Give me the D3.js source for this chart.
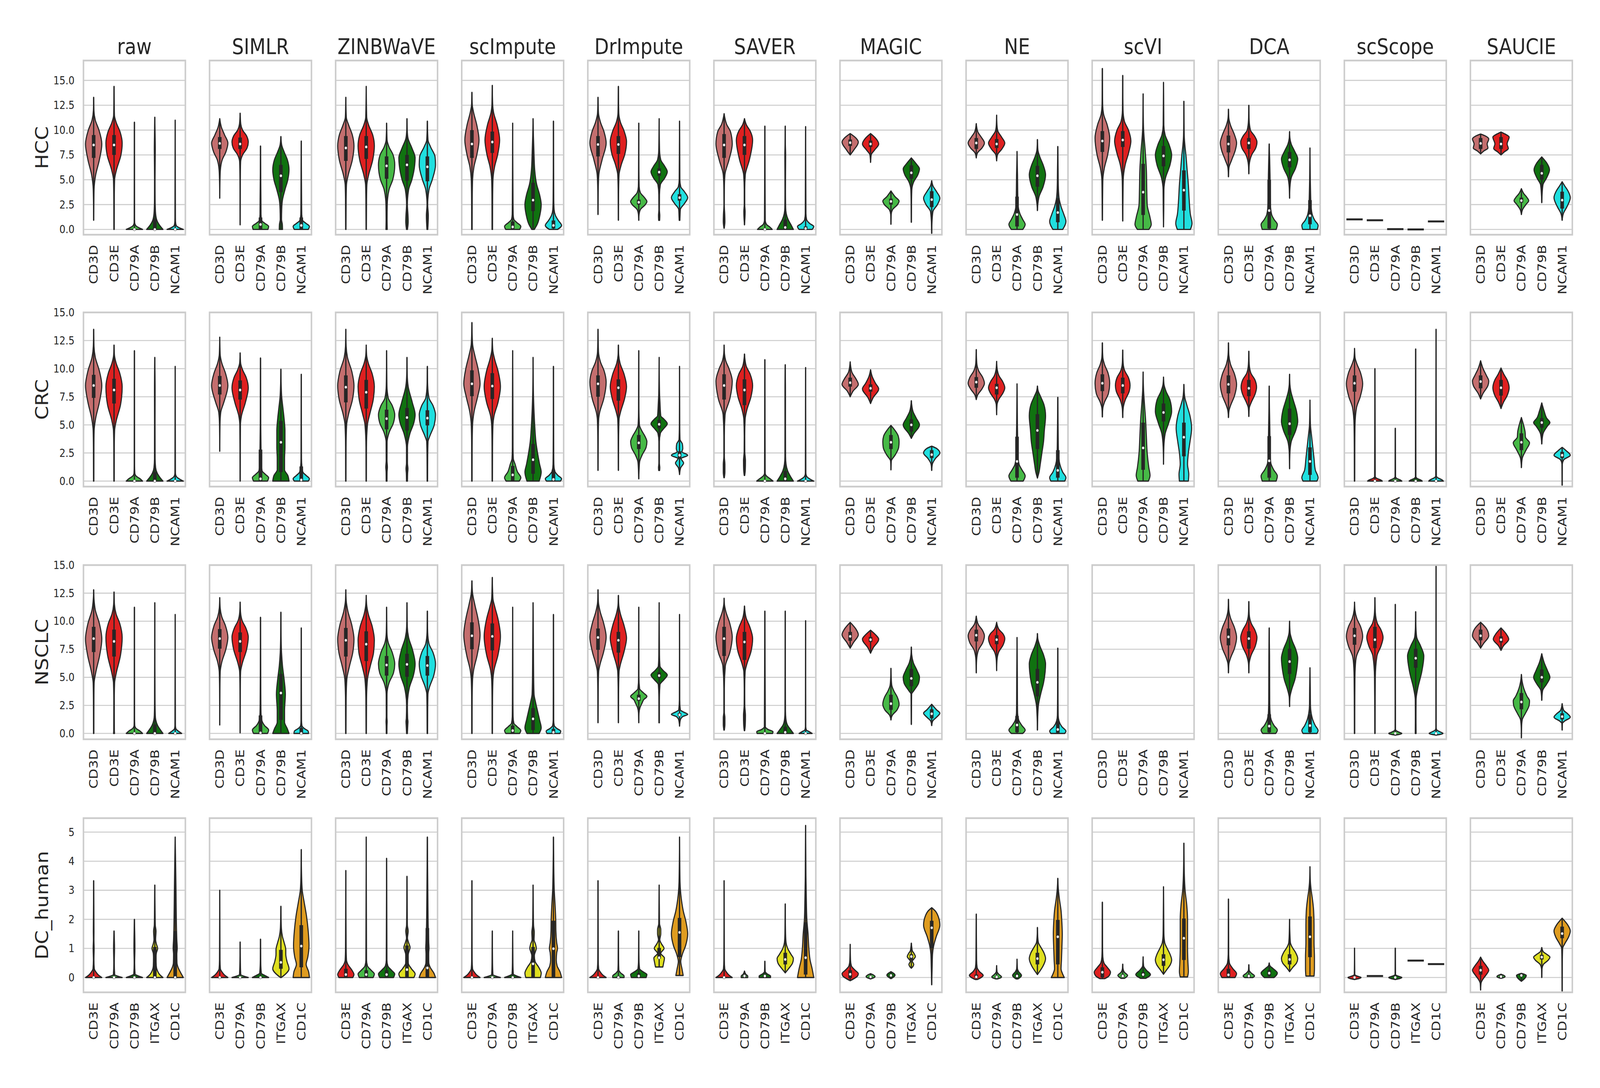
<!DOCTYPE html>
<html>
<head>
<meta charset="utf-8">
<script src="https://cdn.jsdelivr.net/npm/d3@7"></script>
<style>
  html, body { margin: 0; padding: 0; background: #fff; overflow: hidden; }
  #chart svg { display: block; width: 100vw; height: 100vh; }
  text { font-family: "DejaVu Sans", sans-serif; fill: #262626; }
</style>
</head>
<body>
<div id="chart"></div>
<script>
// methods (columns) and datasets (rows)
const methods = ["raw", "SIMLR", "ZINBWaVE", "scImpute", "DrImpute", "SAVER", "MAGIC", "NE", "scVI", "DCA", "scScope", "SAUCIE"];
const datasets = ["HCC", "CRC", "NSCLC", "DC_human"];
const tcellGenes = ["CD3D", "CD3E", "CD79A", "CD79B", "NCAM1"];
const dcGenes = ["CD3E", "CD79A", "CD79B", "ITGAX", "CD1C"];
const geneColors = {CD3D: "#c46e6e", CD3E: "#df2020", CD79A: "#46b946", CD79B: "#107210", NCAM1: "#20dfdf", ITGAX: "#dfdf20", CD1C: "#df9c20"};
const ticksExpr = [0, 2.5, 5, 7.5, 10, 12.5, 15];
const ticksDC = [0, 1, 2, 3, 4, 5];
const yLimits = [[-0.53, 17.0], [-0.49, 15.0], [-0.52, 15.0], [-0.51, 5.48]];

// each violin: [min, max, q1, median, q3, [[value, relative half width], ...]]
const hccViolins = [
  [[0.92,13.3,7.2,8.5,9.5,[[0.92,0],[4,0.05],[5.5,0.25],[7,0.7],[8.6,1],[10,0.65],[11,0.2],[12,0.03],[13.3,0]]],
   [0,14.4,7.5,8.5,9.5,[[0,0.02],[3,0.03],[5,0.07],[6,0.3],[7.5,0.85],[8.7,1],[9.8,0.75],[10.8,0.25],[11.5,0.05],[14.4,0]]],
   [0,10.8,0,0,0,[[0,1],[0.15,0.6],[0.4,0.15],[0.7,0.03],[1.5,0.02],[10.8,0]]],
   [0,11.3,0,0,1.1,[[0,1],[0.4,0.6],[1,0.22],[1.8,0.08],[3,0.04],[5,0.03],[8,0.06],[10,0.03],[11.3,0]]],
   [0,11,0,0,0,[[0,1],[0.15,0.55],[0.4,0.12],[0.8,0.04],[1.2,0.03],[11,0]]]],
  [[3.15,11.15,8.1,8.66,9.3,[[3.15,0],[5,0.03],[6,0.08],[7,0.3],[7.8,0.75],[8.7,1],[9.5,0.6],[10.3,0.2],[11.15,0]]],
   [0.46,11.7,8.1,8.6,9.25,[[0.46,0],[5,0.02],[6.8,0.06],[7.5,0.3],[8.2,0.85],[8.8,1],[9.4,0.8],[10,0.3],[10.6,0.08],[11.7,0]]],
   [0,8.4,0.05,0.5,1.2,[[0,0.9],[0.3,1],[0.6,0.55],[0.9,0.15],[1.5,0.06],[3,0.05],[4,0.04],[6,0.02],[8.4,0]]],
   [0,9.35,3.75,5.4,6.5,[[0,0.2],[0.5,0.18],[1,0.08],[2,0.1],[3,0.2],[4,0.5],[5,0.85],[6,1],[7,0.8],[7.8,0.4],[8.5,0.1],[9.35,0]]],
   [0,8.9,0,0.4,1.2,[[0,0.85],[0.3,1],[0.6,0.6],[0.9,0.18],[1.5,0.06],[3,0.04],[6,0.02],[8.9,0]]]],
  [[0,13.3,6.9,8.2,9.4,[[0,0.02],[3,0.04],[4.5,0.08],[5.5,0.3],[7,0.8],[8.4,1],[9.5,0.8],[10.5,0.35],[11.3,0.06],[13.3,0]]],
   [0,14.4,7.1,8.3,9.4,[[0,0.02],[3,0.04],[4.5,0.08],[5.5,0.3],[7,0.8],[8.4,1],[9.5,0.8],[10.5,0.3],[11.3,0.06],[14.4,0]]],
   [0,10.7,5.1,6.4,7.35,[[0,0.08],[1,0.06],[2.5,0.08],[4,0.3],[5,0.75],[6.5,1],[7.5,0.8],[8.3,0.3],[9,0.06],[10.7,0]]],
   [0,11.15,4.9,6.5,7.5,[[0,0.06],[0.8,0.15],[1.5,0.12],[2.5,0.05],[4,0.2],[5,0.6],[6.5,0.95],[7.2,1],[8.2,0.6],[9.2,0.12],[10,0.03],[11.15,0]]],
   [0,10.9,4.85,6.3,7.35,[[0,0.05],[1.4,0.12],[2.5,0.04],[4,0.2],[5,0.6],[6.5,1],[7.3,0.95],[8.3,0.4],[9,0.08],[10.9,0]]]],
  [[0,13.8,7.2,8.6,10,[[0,0.03],[3,0.04],[5,0.08],[6.3,0.25],[7.5,0.6],[9,0.87],[10.5,0.6],[11.8,0.2],[12.5,0.05],[13.8,0]]],
   [0,14.5,7.7,8.8,9.85,[[0,0.03],[3,0.04],[5,0.08],[6.3,0.28],[7.5,0.65],[9,0.9],[10.5,0.6],[11.8,0.15],[12.5,0.05],[14.5,0]]],
   [0,10.7,0,0.25,0.8,[[0,0.85],[0.3,1],[0.7,0.5],[1,0.15],[1.5,0.06],[3,0.04],[6,0.02],[10.7,0]]],
   [0,11.15,1.85,2.95,4.7,[[0,0.15],[0.5,0.5],[1.5,0.85],[2.5,1],[3.5,0.8],[4.5,0.45],[6,0.2],[8,0.1],[9.5,0.04],[11.15,0]]],
   [0,10.9,0.1,0.4,0.9,[[0,0.5],[0.4,1],[0.9,0.6],[1.4,0.25],[2,0.08],[3,0.04],[6,0.02],[10.9,0]]]],
  [[1.5,13.3,7.35,8.55,9.4,[[1.5,0],[4,0.03],[5.5,0.1],[7,0.5],[8.7,1],[9.8,0.75],[10.8,0.3],[11.7,0.06],[13.3,0]]],
   [0.92,14.4,7.6,8.55,9.4,[[0.92,0],[4,0.03],[5.5,0.08],[6.5,0.35],[7.6,0.8],[8.85,1],[9.9,0.7],[10.8,0.25],[11.7,0.05],[14.4,0]]],
   [0.92,10.7,2.5,2.73,3.0,[[0.92,0],[1.5,0.04],[2,0.2],[2.5,0.8],[2.8,1],[3.2,0.7],[3.7,0.2],[4.3,0.05],[6,0.02],[10.7,0]]],
   [0.92,11.15,5.4,5.77,6.15,[[0.92,0.06],[1.4,0.08],[2,0.03],[3.5,0.04],[4.5,0.15],[5.2,0.7],[5.8,1],[6.4,0.65],[7,0.2],[8,0.05],[11.15,0]]],
   [0.92,10.9,2.9,3.2,3.55,[[0.92,0.04],[1.3,0.06],[2,0.1],[2.6,0.6],[3.2,1],[3.8,0.6],[4.3,0.15],[5,0.04],[10.9,0]]]],
  [[0.13,11.65,7.2,8.5,9.6,[[0.13,0.02],[0.8,0.1],[1.5,0.08],[2.5,0.02],[4,0.03],[5.5,0.1],[7,0.6],[8.6,1],[9.8,0.8],[10.6,0.3],[11.65,0]]],
   [0.46,11.15,7.5,8.5,9.4,[[0.46,0],[1.2,0.06],[1.8,0.08],[2.5,0.03],[4,0.03],[5.5,0.1],[7,0.6],[9,1],[9.9,0.7],[10.5,0.25],[11.15,0]]],
   [0,10.4,0,0,0,[[0,0.9],[0.25,0.6],[0.5,0.2],[0.9,0.05],[10.4,0]]],
   [0,10.4,0,0.2,1.0,[[0,1],[0.4,0.75],[1,0.35],[1.6,0.12],[2.2,0.05],[4,0.03],[6,0.04],[7.5,0.05],[8.5,0.02],[10.4,0]]],
   [0,10.35,0,0.1,0.3,[[0,0.8],[0.3,1],[0.6,0.5],[1,0.12],[1.6,0.04],[10.35,0]]]],
  [[7.5,9.65,8.4,8.73,9.05,[[7.5,0],[8.0,0.45],[8.8,1],[9.2,0.7],[9.65,0]]],
   [6.75,9.65,8.3,8.6,8.95,[[6.75,0],[7.5,0.08],[8.0,0.5],[8.6,1],[9.2,0.6],[9.65,0]]],
   [0.52,3.87,2.5,2.82,3.1,[[0.52,0],[1.5,0.03],[2.0,0.2],[2.5,0.8],[2.85,1],[3.3,0.5],[3.87,0]]],
   [0.72,7.2,5.1,5.7,6.45,[[0.72,0],[2.5,0.02],[4,0.06],[4.8,0.3],[5.5,0.8],[6.1,1],[6.6,0.6],[7.2,0]]],
   [-0.4,4.9,2.25,3.0,3.85,[[-0.4,0],[0.8,0.04],[1.8,0.15],[2.5,0.7],[3.15,1],[3.8,0.6],[4.4,0.15],[4.9,0]]]],
  [[7.2,10.65,8.1,8.7,9.2,[[7.2,0],[7.7,0.15],[8.2,0.7],[8.7,1],[9.3,0.6],[9.8,0.2],[10.65,0]]],
   [6.9,11.5,8.2,8.6,9.1,[[6.9,0],[7.5,0.1],[8.1,0.65],[8.7,1],[9.3,0.6],[9.9,0.15],[10.5,0.04],[11.5,0]]],
   [0,7.85,0.3,1.5,3.3,[[0,0.7],[0.5,1],[1,0.7],[1.6,0.35],[2.5,0.12],[4,0.08],[5.5,0.06],[6.5,0.03],[7.85,0]]],
   [1.9,9.05,4.3,5.4,6.4,[[1.9,0],[2.6,0.06],[3.3,0.2],[4.3,0.7],[5.5,1],[6.5,0.7],[7.3,0.3],[8,0.06],[9.05,0]]],
   [0,8.35,0.72,1.7,3.15,[[0,0.6],[0.8,1],[1.5,0.75],[2.3,0.4],[3.2,0.15],[4.5,0.06],[6,0.04],[8.35,0]]]],
  [[0.92,16.2,7.8,8.9,9.9,[[0.92,0],[3,0.03],[5,0.06],[6.2,0.25],[7.5,0.65],[9.2,0.9],[10.5,0.6],[11.6,0.15],[12.5,0.04],[16.2,0]]],
   [0.85,15.5,8.3,9.0,9.9,[[0.85,0],[3,0.03],[5,0.06],[6.5,0.3],[7.8,0.75],[8.9,1],[10,0.7],[10.9,0.2],[12,0.04],[15.5,0]]],
   [0,13.65,1.45,3.75,6.6,[[0,0.7],[0.5,1],[1.2,0.85],[2.5,0.5],[4,0.45],[6,0.4],[8,0.25],[9.5,0.1],[10.5,0.04],[13.65,0]]],
   [0.26,14.8,6.35,7.4,8.4,[[0.26,0],[2,0.03],[4,0.05],[5.2,0.25],[6.5,0.8],[7.5,1],[8.5,0.7],[9.5,0.2],[10.5,0.04],[14.8,0]]],
   [0,12.9,1.9,3.95,5.95,[[0,0.8],[0.6,1],[1.5,0.8],[3,0.65],[4.5,0.55],[6,0.4],[7.5,0.25],[8.5,0.12],[9.5,0.04],[12.9,0]]]],
  [[5.3,12.1,7.75,8.6,9.45,[[5.3,0],[6.2,0.06],[7,0.4],[8,0.85],[8.7,1],[9.5,0.75],[10.5,0.25],[11.2,0.05],[12.1,0]]],
   [5.6,12.5,8.1,8.7,9.2,[[5.6,0],[6.5,0.05],[7.5,0.35],[8.2,0.85],[8.8,1],[9.4,0.7],[10,0.2],[11,0.04],[12.5,0]]],
   [0,8.6,0.1,1.9,5.0,[[0,0.85],[0.5,1],[1.0,0.6],[1.5,0.3],[2.5,0.15],[4,0.12],[5.5,0.1],[7,0.06],[8.6,0]]],
   [3.15,9.85,6.25,7.0,7.8,[[3.15,0],[4.2,0.04],[5.2,0.2],[6.2,0.75],[7.1,1],[7.9,0.6],[8.6,0.2],[9.2,0.04],[9.85,0]]],
   [0,8.2,0.52,1.38,2.95,[[0,0.9],[0.4,1],[0.9,0.6],[1.6,0.25],[2.5,0.12],[3.5,0.08],[5,0.04],[8.2,0]]]],
  [[1.01,1.01,1.01,1.01,1.01,[]],
   [0.92,0.92,0.92,0.92,0.92,[]],
   [0.03,0.03,0.03,0.03,0.03,[]],
   [0,0,0,0,0,[]],
   [0.81,0.81,0.81,0.81,0.81,[]]],
  [[7.6,9.6,8.1,8.66,9.2,[[7.6,0],[7.9,0.4],[8.2,0.9],[8.6,0.8],[9.1,1],[9.4,0.6],[9.6,0]]],
   [7.5,9.8,8.1,8.6,9.3,[[7.5,0],[7.8,0.4],[8.15,0.9],[8.6,0.75],[9.3,1],[9.6,0.5],[9.8,0]]],
   [1.5,4.1,2.7,2.9,3.2,[[1.5,0],[2.0,0.15],[2.5,0.55],[2.9,0.9],[3.2,0.7],[3.6,0.3],[4.1,0]]],
   [2.7,7.3,5.0,5.65,6.5,[[2.7,0],[3.5,0.04],[4.5,0.15],[5.2,0.6],[6,0.95],[6.7,0.6],[7.3,0]]],
   [0.92,4.8,2.1,2.95,3.8,[[0.92,0],[1.6,0.15],[2.3,0.6],[3.2,1],[3.9,0.7],[4.4,0.3],[4.8,0]]]]
];

const crcViolins = [
  [[0,13.5,7.4,8.5,9.45,[[0,0.02],[3,0.03],[4.5,0.06],[5.6,0.25],[7,0.7],[8.5,1],[9.8,0.7],[11,0.2],[12,0.04],[13.5,0]]],
   [0,12.1,6.9,8.1,9.1,[[0,0.02],[3,0.03],[4.5,0.07],[5.3,0.25],[6.8,0.8],[8.4,1],[9.6,0.7],[10.5,0.25],[11.2,0.05],[12.1,0]]],
   [0,11.6,0,0,0,[[0,1],[0.2,0.7],[0.45,0.2],[0.7,0.05],[1.5,0.02],[11.6,0]]],
   [0,11,0,0,0.8,[[0,1],[0.3,0.65],[0.7,0.3],[1.2,0.1],[2,0.04],[5,0.03],[8,0.04],[11,0]]],
   [0,10.2,0,0,0,[[0,1],[0.15,0.6],[0.4,0.15],[0.7,0.03],[10.2,0]]]],
  [[2.65,12.8,7.7,8.5,9.35,[[2.65,0],[5,0.03],[6.1,0.12],[7,0.5],[8.5,1],[9.6,0.7],[10.5,0.25],[11.3,0.05],[12.8,0]]],
   [0,11.4,7.25,8.1,8.95,[[0,0.01],[3,0.02],[5,0.04],[5.75,0.15],[7,0.65],[8.3,1],[9.2,0.75],[9.9,0.3],[10.5,0.06],[11.4,0]]],
   [0,10.95,0,0.2,2.8,[[0,0.85],[0.3,1],[0.6,0.6],[0.9,0.2],[1.5,0.08],[3,0.06],[5,0.03],[10.95,0]]],
   [0,9.95,0.8,3.45,5.35,[[0,1],[0.5,0.85],[1,0.45],[2,0.45],[3,0.5],[4.5,0.5],[5.5,0.4],[6.5,0.25],[7.5,0.1],[8.5,0.04],[9.95,0]]],
   [0,9.5,0,0.1,1.3,[[0,0.85],[0.2,1],[0.5,0.6],[0.8,0.2],[1.3,0.08],[2,0.03],[9.5,0]]]],
  [[0,13.5,7.0,8.35,9.4,[[0,0.02],[3,0.03],[5,0.1],[6,0.35],[7.2,0.8],[8.5,1],[9.7,0.75],[11,0.2],[12,0.04],[13.5,0]]],
   [0,12.1,6.45,7.9,9.0,[[0,0.02],[3,0.03],[5,0.15],[6,0.45],[7.2,0.85],[8.4,1],[9.5,0.75],[10.5,0.25],[11.2,0.05],[12.1,0]]],
   [0,11.6,4.6,5.55,6.35,[[0,0.05],[0.8,0.06],[1.25,0.1],[1.8,0.05],[3.5,0.06],[4.3,0.3],[5.2,0.85],[5.9,1],[6.7,0.7],[7.4,0.2],[8.5,0.04],[11.6,0]]],
   [0,11,4.5,5.65,6.5,[[0,0.06],[0.7,0.08],[1.1,0.12],[1.6,0.06],[3,0.06],[4.2,0.35],[5.2,0.85],[5.9,1],[7,0.65],[8.4,0.15],[9.5,0.03],[11,0]]],
   [0,10.2,4.95,5.6,6.3,[[0,0.03],[2,0.04],[3.5,0.08],[4,0.3],[5,0.85],[5.9,1],[6.7,0.7],[7.4,0.2],[8.5,0.04],[10.2,0]]]],
  [[0,14.1,7.55,8.65,9.85,[[0,0.02],[3,0.03],[5,0.08],[6.1,0.25],[7.5,0.7],[8.65,1],[10,0.75],[11.2,0.35],[12.2,0.08],[14.1,0]]],
   [0,12.7,7.3,8.45,9.6,[[0,0.02],[3,0.03],[5,0.08],[5.75,0.2],[7,0.7],[8.4,1],[9.8,0.7],[10.8,0.3],[11.65,0.06],[12.7,0]]],
   [0,11.6,0,0.55,1.35,[[0,0.8],[0.3,1],[0.8,0.6],[1.5,0.3],[2,0.08],[3,0.04],[6,0.03],[11.6,0]]],
   [0,11,0.65,1.9,3.3,[[0,0.75],[0.8,1],[1.5,0.8],[2.5,0.55],[3.5,0.35],[5,0.2],[6.5,0.1],[8,0.04],[11,0]]],
   [0,10.2,0,0.15,1.0,[[0,0.85],[0.2,1],[0.5,0.55],[0.9,0.15],[1.5,0.05],[3,0.03],[10.2,0]]]],
  [[0.95,13.5,7.5,8.65,9.4,[[0.95,0],[4,0.03],[5.5,0.08],[6.1,0.2],[7.3,0.7],[8.8,1],[9.8,0.75],[10.6,0.3],[11.5,0.06],[13.5,0]]],
   [0.95,12.1,7.15,8.3,9.05,[[0.95,0],[4,0.03],[5.5,0.08],[6.1,0.25],[7.3,0.75],[8.4,1],[9.5,0.7],[10.5,0.2],[11.2,0.04],[12.1,0]]],
   [0.2,11.6,2.85,3.4,4.1,[[0.2,0],[1.0,0.04],[1.7,0.1],[2.3,0.4],[3,0.9],[3.5,1],[4.0,0.75],[4.5,0.35],[5,0.08],[6.5,0.02],[11.6,0]]],
   [0.95,11,4.7,5.05,5.45,[[0.95,0.06],[1.2,0.08],[1.6,0.03],[3.5,0.03],[4.25,0.15],[4.7,0.6],[5.1,1],[5.5,0.6],[5.8,0.2],[7,0.1],[7.8,0.05],[11,0]]],
   [0.58,10.2,1.95,2.3,2.65,[[0.58,0],[1.2,0.15],[1.6,0.5],[2,0.2],[2.3,1],[2.6,0.3],[2.9,0.4],[3.3,0.35],[3.7,0.06],[5,0.02],[10.2,0]]]],
  [[0.3,12.1,7.25,8.5,9.5,[[0.3,0.03],[0.8,0.1],[1.5,0.1],[2.2,0.03],[4,0.03],[5.9,0.12],[7.3,0.7],[8.9,1],[10,0.6],[10.7,0.2],[11.3,0.05],[12.1,0]]],
   [0.5,11.3,6.75,8.1,9.05,[[0.5,0.03],[1,0.1],[1.8,0.12],[2.6,0.04],[4,0.03],[5.5,0.08],[6.35,0.3],[7.5,0.8],[8.5,1],[9.5,0.7],[10.25,0.2],[11.3,0]]],
   [0,10.8,0,0,0,[[0,1],[0.2,0.65],[0.45,0.2],[0.7,0.04],[10.8,0]]],
   [0,10.35,0,0.2,0.9,[[0,1],[0.4,0.65],[0.9,0.3],[1.5,0.1],[2.2,0.04],[5,0.03],[8,0.03],[10.35,0]]],
   [0,10.1,0,0,0,[[0,1],[0.15,0.6],[0.4,0.15],[0.7,0.03],[10.1,0]]]],
  [[7.5,10.6,8.4,8.75,9.2,[[7.5,0],[8,0.35],[8.6,1],[9.1,0.7],[9.7,0.2],[10.6,0]]],
   [6.9,9.9,7.95,8.25,8.6,[[6.9,0],[7.4,0.3],[8.2,1],[8.7,0.6],[9.3,0.2],[9.9,0]]],
   [1.0,4.95,2.85,3.45,4.1,[[1.0,0],[1.8,0.05],[2.3,0.5],[3.0,0.95],[3.5,1],[4.0,0.9],[4.6,0.4],[4.95,0]]],
   [3.8,7.15,4.4,5.0,5.5,[[3.8,0],[4.2,0.3],[5.0,1],[5.6,0.6],[6.2,0.2],[7.15,0]]],
   [0.95,3.1,2.05,2.35,2.75,[[0.95,0],[1.5,0.08],[2.0,0.45],[2.5,1],[2.9,0.6],[3.1,0]]]],
  [[7.25,11.7,8.3,8.8,9.25,[[7.25,0],[7.7,0.2],[8.2,0.7],[8.7,1],[9.2,0.8],[9.8,0.3],[10.5,0.06],[11.7,0]]],
   [5.9,10.65,7.7,8.3,8.65,[[5.9,0],[6.8,0.05],[7.25,0.25],[7.8,0.75],[8.3,1],[8.9,0.7],[9.35,0.3],[10,0.06],[10.65,0]]],
   [0,8.65,0.3,1.75,3.95,[[0,0.75],[0.45,1],[1,0.6],[1.5,0.25],[2.5,0.08],[4,0.07],[5,0.05],[8.65,0]]],
   [0.27,8.45,2.85,4.5,5.95,[[0.27,0],[0.8,0.2],[1.5,0.35],[2.5,0.55],[3.5,0.75],[4.5,0.85],[5.8,1],[6.8,0.8],[7.5,0.4],[8.0,0.1],[8.45,0]]],
   [0,7.45,0.3,0.95,2.75,[[0,0.85],[0.3,1],[0.8,0.6],[1.5,0.25],[2.5,0.08],[4,0.05],[7.45,0]]]],
  [[5.7,12.3,8.0,8.7,9.5,[[5.7,0],[6.5,0.06],[7,0.25],[7.8,0.75],[8.7,0.9],[9.6,0.7],[10.4,0.25],[11,0.06],[12.3,0]]],
   [5.65,11.65,7.8,8.5,9.2,[[5.65,0],[6.5,0.06],[7.2,0.3],[8,0.8],[8.5,0.9],[9.2,0.7],[9.8,0.25],[10.5,0.05],[11.65,0]]],
   [0,9.7,1.0,2.95,5.2,[[0,0.65],[0.5,0.85],[1.2,0.7],[2.5,0.5],[4,0.4],[5.5,0.3],[7,0.15],[8,0.06],[9.7,0]]],
   [1.5,9.25,5.3,6.1,6.9,[[1.5,0],[3,0.04],[4.2,0.2],[5.2,0.65],[6.2,1],[7.2,0.8],[8,0.3],[8.6,0.06],[9.25,0]]],
   [0,8.6,2.2,3.9,5.2,[[0,0.55],[0.6,0.6],[1.5,0.45],[2.5,0.55],[3.5,0.75],[4.7,0.95],[5.8,0.75],[6.8,0.35],[7.5,0.1],[8.6,0]]]],
  [[5.65,12.3,7.8,8.6,9.4,[[5.65,0],[6.3,0.08],[6.7,0.25],[7.6,0.75],[8.6,1],[9.5,0.75],[10.4,0.25],[11.2,0.05],[12.3,0]]],
   [5.75,11.55,7.55,8.25,9.0,[[5.75,0],[6.5,0.06],[7,0.3],[7.8,0.8],[8.35,0.95],[9,0.75],[9.6,0.25],[10.4,0.05],[11.55,0]]],
   [0,8.45,0.3,1.8,4.0,[[0,0.85],[0.45,1],[1,0.55],[1.6,0.2],[2.5,0.1],[4,0.09],[5,0.07],[6.5,0.03],[8.45,0]]],
   [1.1,9.5,4.1,5.1,6.45,[[1.1,0],[2.5,0.04],[3.5,0.2],[4.5,0.75],[5.3,1],[6.2,0.85],[7.2,0.45],[8,0.15],[8.6,0.04],[9.5,0]]],
   [0,7.2,0.55,1.75,3.0,[[0,0.85],[0.3,1],[1,0.65],[2,0.5],[3,0.35],[4,0.2],[5,0.06],[7.2,0]]]],
  [[0,11.8,7.95,8.7,9.4,[[0,0.02],[3,0.03],[5,0.06],[6.55,0.25],[7.5,0.7],[8.65,1],[9.6,0.75],[10.5,0.25],[11,0.06],[11.8,0]]],
   [0,10,0,0,0,[[0,0.9],[0.1,0.7],[0.25,0.2],[0.4,0.04],[10,0]]],
   [0,4.7,0,0,0,[[0,0.8],[0.1,0.6],[0.25,0.15],[0.4,0.03],[4.7,0]]],
   [0,11.75,0,0,0,[[0,0.8],[0.1,0.6],[0.25,0.15],[0.4,0.03],[11.75,0]]],
   [0,13.5,0,0,0,[[0,0.9],[0.12,0.7],[0.3,0.2],[0.45,0.04],[13.5,0]]]],
  [[7.3,10.7,8.25,8.85,9.4,[[7.3,0],[7.8,0.3],[8.5,0.9],[8.9,1],[9.4,0.7],[10,0.3],[10.7,0]]],
   [6.45,10.05,7.6,8.3,9.0,[[6.45,0],[7,0.3],[7.6,0.75],[8.3,1],[9,0.75],[9.5,0.35],[10.05,0]]],
   [1.2,5.65,2.75,3.45,4.25,[[1.2,0],[2,0.1],[2.8,0.6],[3.4,1],[3.9,0.5],[4.4,0.45],[4.9,0.3],[5.65,0]]],
   [3.3,6.95,4.75,5.2,5.6,[[3.3,0],[4.2,0.15],[4.9,0.7],[5.2,1],[5.6,0.6],[6.2,0.3],[6.95,0]]],
   [-0.37,3.0,2.05,2.3,2.6,[[-0.37,0],[1.5,0.02],[1.9,0.2],[2.3,1],[2.7,0.5],[3.0,0]]]]
];

const nsclcViolins = [
  [[0,12.8,7.25,8.45,9.5,[[0,0.02],[3,0.03],[4.5,0.06],[5.4,0.25],[7,0.75],[8.4,1],[9.8,0.7],[11,0.2],[12,0.04],[12.8,0]]],
   [0,12.6,6.85,8.2,9.25,[[0,0.06],[0.3,0.04],[3,0.03],[4.5,0.07],[5.3,0.25],[7,0.8],[8.55,1],[9.8,0.7],[10.65,0.25],[11.5,0.05],[12.6,0]]],
   [0,11.25,0,0,0,[[0,1],[0.2,0.7],[0.45,0.2],[0.7,0.04],[1.5,0.02],[11.25,0]]],
   [0,11.65,0,0,0.8,[[0,1],[0.3,0.7],[0.7,0.35],[1.2,0.12],[1.6,0.06],[3,0.03],[11.65,0]]],
   [0,10.6,0,0,0,[[0,0.8],[0.15,0.5],[0.4,0.1],[0.7,0.03],[10.6,0]]]],
  [[0.75,12.1,7.55,8.45,9.3,[[0.75,0],[4,0.02],[5.5,0.06],[6.35,0.25],[7.5,0.75],[8.55,1],[9.6,0.7],[10.4,0.25],[11.2,0.05],[12.1,0]]],
   [0.05,11.7,7.25,8.2,9.0,[[0.05,0],[4,0.02],[5.5,0.06],[6.2,0.25],[7.5,0.8],[8.6,1],[9.4,0.7],[10.05,0.25],[10.8,0.05],[11.7,0]]],
   [0,10.35,0,0.05,1.6,[[0,0.85],[0.3,1],[0.7,0.5],[1.2,0.15],[1.8,0.06],[3,0.04],[10.35,0]]],
   [0,10.8,1.2,3.6,5.3,[[0,1],[0.4,0.8],[1,0.45],[2,0.45],[3.5,0.55],[4.8,0.4],[6,0.2],[7.2,0.08],[8.5,0.03],[10.8,0]]],
   [0,9.4,0,0,0.5,[[0,0.9],[0.2,0.85],[0.45,0.35],[0.7,0.08],[1.2,0.03],[9.4,0]]]],
  [[0,12.8,6.85,8.3,9.4,[[0,0.02],[3,0.04],[4.8,0.12],[6,0.45],[7.2,0.85],[8.4,1],[9.6,0.75],[10.9,0.25],[11.8,0.05],[12.8,0]]],
   [0,12.3,6.45,7.95,9.1,[[0,0.02],[3,0.04],[4.8,0.15],[6,0.5],[7.2,0.9],[8.3,1],[9.5,0.75],[10.65,0.25],[11.5,0.05],[12.3,0]]],
   [0,11.25,5.15,6.1,6.9,[[0,0.04],[0.7,0.05],[1.05,0.07],[1.5,0.04],[3.5,0.05],[4.5,0.3],[5.4,0.85],[6.2,1],[7.2,0.7],[8.1,0.2],[9,0.04],[11.25,0]]],
   [0,11.65,5.05,6.15,7.1,[[0,0.05],[0.75,0.1],[1.05,0.12],[1.35,0.08],[2.5,0.05],[4.1,0.3],[5.2,0.8],[6.2,1],[7.4,0.7],[8.55,0.2],[9.5,0.04],[11.65,0]]],
   [0,10.9,5.15,6.05,6.9,[[0,0.03],[2,0.04],[3.5,0.07],[4.1,0.25],[5.2,0.8],[6.2,1],[7.2,0.7],[8,0.2],[9,0.04],[10.9,0]]]],
  [[0,13.6,7.5,8.7,9.9,[[0,0.02],[3,0.03],[4.8,0.08],[5.6,0.2],[7,0.65],[8.8,1],[10.2,0.75],[11.5,0.35],[12.5,0.08],[13.6,0]]],
   [0,13.9,7.4,8.65,9.8,[[0,0.02],[3,0.03],[4.8,0.08],[5.6,0.2],[7,0.7],[8.65,1],[10.2,0.7],[11.3,0.3],[12,0.08],[13.9,0]]],
   [0,11.25,0,0.25,0.7,[[0,0.85],[0.25,1],[0.6,0.55],[0.9,0.15],[1.5,0.05],[3,0.03],[11.25,0]]],
   [0,11.65,0.3,1.3,2.25,[[0,0.75],[0.5,1],[1.2,0.8],[2,0.55],[2.8,0.3],[3.5,0.12],[5,0.07],[7,0.05],[9,0.03],[11.65,0]]],
   [0,10.6,0,0.1,0.4,[[0,0.8],[0.2,0.9],[0.45,0.4],[0.7,0.1],[1.2,0.03],[10.6,0]]]],
  [[0.95,12.8,7.45,8.55,9.35,[[0.95,0],[4,0.03],[5.5,0.08],[6,0.2],[7.3,0.7],[8.6,1],[9.8,0.7],[10.9,0.25],[11.7,0.05],[12.8,0]]],
   [0.95,12.3,7.2,8.3,9.05,[[0.95,0],[4,0.03],[5.5,0.08],[6,0.2],[7.3,0.7],[8.5,1],[9.6,0.7],[10.65,0.25],[11.4,0.05],[12.3,0]]],
   [0.95,11.25,2.9,3.1,3.45,[[0.95,0],[1.8,0.03],[2.3,0.15],[2.7,0.4],[3.0,0.6],[3.3,1],[3.6,0.6],[4.0,0.1],[5,0.02],[11.25,0]]],
   [0.95,11.65,4.95,5.15,5.45,[[0.95,0.03],[3,0.03],[4.35,0.1],[4.8,0.6],[5.2,1],[5.6,0.5],[6.0,0.1],[7,0.04],[11.65,0]]],
   [0.65,10.6,1.55,1.65,1.8,[[0.65,0],[1.2,0.1],[1.5,0.4],[1.7,1],[1.9,0.5],[2.1,0.1],[3,0.02],[10.6,0]]]],
  [[0.3,12.05,6.9,8.45,9.5,[[0.3,0.03],[0.8,0.1],[1.4,0.1],[1.9,0.03],[4,0.03],[6,0.15],[7.2,0.7],[8.6,1],[9.8,0.7],[10.9,0.2],[11.5,0.04],[12.05,0]]],
   [0.25,11.35,6.55,8.15,9.05,[[0.25,0.03],[0.8,0.1],[1.6,0.12],[2.5,0.04],[4,0.03],[5.5,0.08],[6.2,0.3],[7.3,0.8],[8.45,1],[9.5,0.65],[10.3,0.2],[11.35,0]]],
   [0,10.9,0,0,0,[[0,0.95],[0.15,1],[0.35,0.4],[0.6,0.06],[10.9,0]]],
   [0,10.9,0,0.1,0.6,[[0,1],[0.3,0.7],[0.7,0.3],[1.3,0.08],[2,0.03],[10.9,0]]],
   [0,10.05,0,0,0,[[0,0.8],[0.15,0.45],[0.3,0.1],[0.6,0.02],[10.05,0]]]],
  [[7.6,9.9,8.25,8.65,9.05,[[7.6,0],[8.1,0.4],[8.8,1],[9.3,0.7],[9.9,0]]],
   [7.15,9.2,8.15,8.35,8.6,[[7.15,0],[7.6,0.3],[8.4,1],[8.8,0.6],[9.2,0]]],
   [1.2,5.8,2.1,2.65,3.45,[[1.2,0],[1.6,0.15],[2.1,0.75],[2.6,1],[3.2,0.8],[3.8,0.35],[4.3,0.1],[5,0.03],[5.8,0]]],
   [0.8,7.7,4.2,4.9,5.75,[[0.8,0],[2,0.02],[3.5,0.04],[3.8,0.3],[4.5,0.9],[5,1],[5.6,0.7],[6.3,0.25],[7,0.05],[7.7,0]]],
   [0.7,2.6,1.35,1.75,2.15,[[0.7,0],[1.1,0.12],[1.45,0.6],[1.8,1],[2.1,0.6],[2.6,0]]]],
  [[5.4,10.45,8.2,8.75,9.25,[[5.4,0],[6.5,0.04],[7.4,0.25],[8.1,0.8],[8.7,1],[9.2,0.75],[9.7,0.25],[10.45,0]]],
   [5.6,9.9,7.95,8.35,8.75,[[5.6,0],[6.5,0.04],[7.25,0.25],[7.9,0.8],[8.45,1],[8.9,0.75],[9.25,0.3],[9.9,0]]],
   [0,8.55,0.1,0.75,1.55,[[0,0.7],[0.3,1],[0.7,0.6],[1.2,0.2],[1.8,0.07],[3,0.05],[5,0.04],[8.55,0]]],
   [0.3,8.9,3.3,4.55,5.75,[[0.3,0],[1.5,0.04],[2.5,0.12],[3.5,0.4],[4.5,0.75],[5.5,0.95],[6.2,1],[7,0.75],[7.8,0.3],[8.4,0.06],[8.9,0]]],
   [0,7.6,0.05,0.35,1.1,[[0,0.85],[0.2,1],[0.6,0.5],[1.1,0.15],[1.6,0.05],[3,0.03],[7.6,0]]]],
  [],
  [[5.4,11.95,7.85,8.6,9.35,[[5.4,0],[6.2,0.06],[6.7,0.25],[7.6,0.75],[8.55,1],[9.4,0.75],[10.3,0.25],[11,0.05],[11.95,0]]],
   [5.4,11.75,7.55,8.45,9.1,[[5.4,0],[6.2,0.04],[6.9,0.25],[7.8,0.8],[8.55,1],[9.2,0.75],[9.8,0.3],[10.6,0.05],[11.75,0]]],
   [0,9.4,0.1,0.65,1.7,[[0,0.8],[0.3,1],[0.7,0.6],[1.2,0.25],[1.8,0.1],[3,0.06],[5,0.05],[7,0.04],[9.4,0]]],
   [2.4,10,5.3,6.4,7.55,[[2.4,0],[3.2,0.04],[3.9,0.25],[4.8,0.65],[5.8,0.9],[6.7,1],[7.5,0.75],[8.3,0.3],[9,0.06],[10,0]]],
   [0,5.85,0.1,0.7,1.7,[[0,0.85],[0.25,1],[0.7,0.65],[1.2,0.35],[1.8,0.15],[2.5,0.06],[4,0.04],[5.85,0]]]],
  [[0,11.7,7.9,8.7,9.4,[[0,0.02],[3,0.03],[5,0.05],[6.5,0.15],[6.9,0.25],[7.8,0.75],[8.65,1],[9.5,0.75],[10.2,0.3],[11,0.05],[11.7,0]]],
   [0,12.1,7.6,8.35,9.5,[[0,0.02],[3,0.03],[5,0.05],[6.9,0.25],[7.8,0.75],[8.55,1],[9.3,0.7],[9.8,0.3],[10.8,0.05],[12.1,0]]],
   [-0.15,11.5,0,0,0,[[-0.15,0],[0,0.8],[0.1,0.5],[0.25,0.1],[0.4,0.02],[11.5,0]]],
   [0,10.85,5.85,6.7,7.55,[[0,0.05],[1.5,0.04],[3,0.05],[4,0.25],[5.5,0.75],[6.9,1],[7.8,0.6],[8.6,0.12],[9.5,0.03],[10.85,0]]],
   [-0.15,14.95,0,0,0,[[-0.15,0],[0,0.85],[0.12,0.55],[0.3,0.1],[0.5,0.02],[14.95,0]]]],
  [[7.6,9.9,8.3,8.7,9.25,[[7.6,0],[8.0,0.35],[8.7,1],[9.3,0.75],[9.9,0]]],
   [7.4,9.4,8.1,8.35,8.65,[[7.4,0],[7.8,0.3],[8.4,0.95],[8.9,0.6],[9.4,0]]],
   [-0.4,5.25,2.15,2.8,3.6,[[-0.4,0],[0.5,0.02],[1.2,0.1],[1.8,0.5],[2.5,0.95],[2.9,1],[3.3,0.7],[4,0.3],[4.6,0.1],[5.25,0]]],
   [2.95,7.1,4.55,5.0,5.7,[[2.95,0],[3.8,0.1],[4.4,0.6],[5.0,1],[5.6,0.7],[6.3,0.3],[7.1,0]]],
   [0.3,2.65,1.25,1.5,1.8,[[0.3,0],[0.9,0.04],[1.1,0.3],[1.45,1],[1.8,0.6],[2.05,0.2],[2.65,0]]]]
];

const dcViolins = [
  [[0,3.33,0,0,0,[[0,1],[0.08,0.6],[0.18,0.3],[0.3,0.08],[0.6,0.03],[1,0.06],[1.3,0.03],[1.6,0.04],[3.33,0]]],
   [0,1.6,0,0,0,[[0,1],[0.04,0.5],[0.1,0.08],[0.5,0.03],[1,0.06],[1.6,0]]],
   [0,2.0,0,0,0,[[0,1],[0.05,0.5],[0.12,0.08],[0.5,0.03],[1,0.06],[2.0,0]]],
   [0,3.18,0,0,1.05,[[0,1],[0.1,0.6],[0.25,0.3],[0.4,0.18],[0.7,0.15],[0.85,0.2],[1.0,0.35],[1.15,0.2],[1.3,0.1],[1.6,0.15],[1.8,0.06],[2.2,0.04],[3.18,0]]],
   [0,4.83,0,0,1.6,[[0,1],[0.15,0.7],[0.35,0.35],[0.5,0.22],[0.8,0.2],[1.0,0.25],[1.3,0.2],[2,0.14],[3,0.1],[3.8,0.06],[4.83,0]]]],
  [[0,3.0,0,0,0,[[0,1],[0.08,0.6],[0.18,0.3],[0.3,0.08],[0.6,0.03],[3.0,0]]],
   [0,1.22,0,0,0,[[0,1],[0.04,0.5],[0.1,0.08],[0.5,0.03],[1.22,0]]],
   [0,1.32,0,0,0,[[0,1],[0.06,0.6],[0.15,0.1],[0.5,0.03],[1.32,0]]],
   [0,2.45,0.3,0.52,0.95,[[0,0.05],[0.1,0.5],[0.3,1],[0.55,0.75],[0.8,0.6],[0.95,0.6],[1.2,0.4],[1.4,0.2],[1.7,0.06],[2.45,0]]],
   [0,4.4,0.35,1.08,1.8,[[0,1],[0.2,0.9],[0.45,0.6],[0.7,0.8],[1.1,0.95],[1.6,0.85],[2.1,0.65],[2.6,0.35],[3.0,0.12],[3.5,0.04],[4.4,0]]]],
  [[0,3.68,0,0.1,0.3,[[0,0.85],[0.1,1],[0.25,0.75],[0.45,0.25],[0.6,0.08],[1,0.04],[3.68,0]]],
   [0,4.83,0,0.1,0.25,[[0,0.85],[0.12,1],[0.25,0.6],[0.4,0.15],[0.6,0.04],[4.83,0]]],
   [0,4.1,0,0.1,0.25,[[0,0.85],[0.12,1],[0.25,0.6],[0.4,0.15],[0.6,0.04],[4.1,0]]],
   [0,3.48,0,0.27,1.1,[[0,0.85],[0.12,1],[0.3,0.55],[0.5,0.15],[0.75,0.12],[0.9,0.25],[1.03,0.38],[1.2,0.2],[1.35,0.06],[1.6,0.15],[1.8,0.05],[2.3,0.03],[3.48,0]]],
   [0,4.83,0,0.33,1.7,[[0,1],[0.15,0.8],[0.35,0.35],[0.5,0.18],[0.8,0.15],[1.0,0.2],[1.3,0.15],[1.8,0.1],[2.5,0.07],[3.5,0.04],[4.83,0]]]],
  [[0,3.33,0,0,0,[[0,1],[0.08,0.6],[0.18,0.3],[0.3,0.08],[0.6,0.03],[3.33,0]]],
   [0,1.6,0,0,0,[[0,1],[0.04,0.5],[0.1,0.08],[0.5,0.03],[1.6,0]]],
   [0,1.6,0,0,0,[[0,1],[0.05,0.5],[0.12,0.08],[0.5,0.03],[1.6,0]]],
   [0,3.18,0,0.47,1.05,[[0,0.9],[0.15,1],[0.35,0.7],[0.55,0.25],[0.75,0.15],[0.9,0.3],[1.0,0.4],[1.15,0.3],[1.3,0.12],[1.55,0.15],[1.8,0.06],[2.3,0.03],[3.18,0]]],
   [0,4.83,0,0.99,1.95,[[0,1],[0.2,0.8],[0.4,0.45],[0.6,0.35],[0.85,0.4],[1.0,0.5],[1.2,0.4],[1.6,0.3],[2.0,0.28],[2.5,0.2],[3.0,0.1],[3.6,0.05],[4.83,0]]]],
  [[0,3.33,0,0,0,[[0,1],[0.08,0.6],[0.18,0.3],[0.3,0.08],[0.6,0.03],[3.33,0]]],
   [0,1.6,0,0,0.05,[[0,0.7],[0.05,0.7],[0.15,0.3],[0.25,0.06],[0.5,0.03],[1.6,0]]],
   [0,1.6,0,0.05,0.15,[[0,0.9],[0.1,1],[0.2,0.5],[0.3,0.1],[0.6,0.03],[1.6,0]]],
   [0.36,3.18,0.65,0.68,1.02,[[0.36,0.45],[0.5,0.55],[0.67,0.65],[0.83,0.2],[1.0,0.6],[1.15,0.3],[1.3,0.08],[1.5,0.2],[1.65,0.2],[1.85,0.05],[2.3,0.03],[3.18,0]]],
   [0.07,4.83,0.7,1.55,2.05,[[0.07,0.45],[0.3,0.3],[0.55,0.15],[0.8,0.35],[1.1,0.75],[1.5,1],[1.9,0.8],[2.3,0.45],[2.8,0.18],[3.3,0.06],[4.83,0]]]],
  [[0,3.33,0,0,0,[[0,1],[0.08,0.6],[0.18,0.3],[0.3,0.08],[0.6,0.03],[3.33,0]]],
   [0,0.22,0,0.05,0.08,[[0,0.4],[0.05,0.4],[0.1,0.2],[0.22,0]]],
   [0,0.56,0,0.05,0.1,[[0,0.7],[0.05,0.7],[0.12,0.3],[0.2,0.05],[0.56,0]]],
   [0.16,2.53,0.45,0.62,0.85,[[0.16,0],[0.3,0.4],[0.5,0.9],[0.65,1],[0.8,0.7],[1.0,0.3],[1.2,0.1],[1.5,0.04],[2.53,0]]],
   [0,5.23,0.1,0.68,1.9,[[0,1],[0.3,0.8],[0.6,0.55],[1.0,0.4],[1.5,0.3],[2,0.15],[2.8,0.08],[3.5,0.04],[5.23,0]]]],
  [[-0.11,1.14,-0.02,0.11,0.25,[[-0.11,0],[-0.05,0.4],[0.05,0.9],[0.13,1],[0.25,0.6],[0.4,0.15],[0.6,0.04],[1.14,0]]],
   [-0.05,0.13,0,0.02,0.04,[[-0.05,0],[0.03,0.55],[0.13,0]]],
   [-0.04,0.2,0.03,0.07,0.1,[[-0.04,0],[0.08,0.5],[0.2,0]]],
   [0.32,1.18,0.6,0.72,0.8,[[0.32,0],[0.38,0.2],[0.45,0.3],[0.56,0.12],[0.65,0.35],[0.72,0.5],[0.82,0.35],[0.92,0.12],[1.05,0.05],[1.18,0]]],
   [-0.25,2.4,1.0,1.71,1.95,[[-0.25,0],[0.3,0.05],[0.8,0.1],[1.1,0.25],[1.4,0.55],[1.8,1],[2.1,0.8],[2.3,0.4],[2.4,0]]]],
  [[-0.07,2.18,0,0.02,0.1,[[-0.07,0.1],[0,0.6],[0.07,0.85],[0.2,0.4],[0.35,0.1],[0.6,0.04],[2.18,0]]],
   [-0.05,0.41,0,0.02,0.05,[[-0.05,0.1],[0.02,0.6],[0.1,0.3],[0.2,0.05],[0.41,0]]],
   [-0.05,0.63,0.02,0.05,0.12,[[-0.05,0.1],[0.07,0.55],[0.2,0.2],[0.3,0.05],[0.63,0]]],
   [0.1,1.72,0.45,0.65,0.85,[[0.1,0],[0.2,0.25],[0.4,0.7],[0.65,1],[0.85,0.8],[1.05,0.4],[1.2,0.12],[1.4,0.04],[1.72,0]]],
   [0,3.41,0.45,1.4,1.98,[[0,0.8],[0.15,0.55],[0.3,0.4],[0.6,0.45],[1.0,0.5],[1.5,0.55],[1.9,0.5],[2.3,0.4],[2.7,0.2],[3.0,0.08],[3.41,0]]]],
  [[-0.04,2.59,0,0.18,0.35,[[-0.04,0.3],[0.05,0.8],[0.18,1],[0.35,0.6],[0.5,0.2],[0.7,0.06],[1,0.03],[2.59,0]]],
   [-0.03,0.46,0.02,0.05,0.1,[[-0.03,0.2],[0.07,0.6],[0.18,0.2],[0.3,0.04],[0.46,0]]],
   [-0.03,0.71,0.05,0.1,0.18,[[-0.03,0.3],[0.1,0.9],[0.25,0.4],[0.4,0.06],[0.71,0]]],
   [0.11,3.12,0.4,0.61,0.8,[[0.11,0],[0.25,0.35],[0.45,0.85],[0.6,1],[0.8,0.8],[1.0,0.45],[1.2,0.15],[1.5,0.05],[2,0.03],[3.12,0]]],
   [0.02,4.62,0.6,1.35,2.03,[[0.02,0.45],[0.2,0.55],[0.5,0.5],[1.0,0.45],[1.5,0.45],[2.0,0.45],[2.5,0.35],[3.0,0.15],[3.5,0.06],[4.62,0]]]],
  [[0,2.7,0,0.09,0.3,[[0,0.8],[0.13,1],[0.3,0.55],[0.5,0.12],[0.8,0.03],[2.7,0]]],
   [0,0.44,0.02,0.05,0.1,[[0,0.5],[0.05,0.7],[0.15,0.3],[0.25,0.05],[0.44,0]]],
   [0,0.5,0.05,0.15,0.25,[[0,0.6],[0.15,1],[0.3,0.5],[0.4,0.1],[0.5,0]]],
   [0.2,2.0,0.45,0.62,0.8,[[0.2,0],[0.35,0.4],[0.5,0.85],[0.65,1],[0.85,0.75],[1.05,0.3],[1.2,0.1],[1.5,0.04],[2.0,0]]],
   [0.05,3.81,0.7,1.4,2.1,[[0.05,0.5],[0.3,0.55],[0.7,0.55],[1.2,0.5],[1.8,0.5],[2.3,0.45],[2.7,0.3],[3.0,0.15],[3.3,0.05],[3.81,0]]]],
  [[-0.07,1.01,0,0,0,[[-0.07,0],[0,0.8],[0.05,0.3],[0.1,0.03],[1.01,0]]],
   [0.05,0.05,0.05,0.05,0.05,[]],
   [-0.07,1.01,0,0,0,[[-0.07,0],[0,0.8],[0.05,0.3],[0.1,0.03],[1.01,0]]],
   [0.58,0.58,0.58,0.58,0.58,[]],
   [0.46,0.46,0.46,0.46,0.46,[]]],
  [[-0.43,0.7,0.1,0.25,0.4,[[-0.43,0],[-0.2,0.05],[-0.05,0.3],[0.1,0.7],[0.25,1],[0.4,0.7],[0.55,0.3],[0.7,0]]],
   [-0.03,0.11,0.01,0.03,0.05,[[-0.03,0],[0.03,0.5],[0.11,0]]],
   [-0.13,0.14,0.04,0.07,0.1,[[-0.13,0],[0.07,0.6],[0.14,0]]],
   [0,1.03,0.62,0.7,0.78,[[0,0],[0.3,0.03],[0.45,0.2],[0.6,0.8],[0.7,1],[0.8,0.6],[0.88,0.2],[1.03,0]]],
   [-0.47,2.04,1.35,1.51,1.75,[[-0.47,0],[0.5,0.02],[1.0,0.06],[1.15,0.3],[1.4,0.8],[1.6,1],[1.8,0.7],[2.04,0]]]]
];

const rowViolins = [hccViolins, crcViolins, nsclcViolins, dcViolins];
const rowGenes = [tcellGenes, tcellGenes, tcellGenes, dcGenes];
const rowTicks = [ticksExpr, ticksExpr, ticksExpr, ticksDC];

// figure layout (in viewBox units, stretched over the whole window)
const W = 4685, H = 2786;
const firstLeft = 244.4, colStep = 369.2, panelW = 298.4, panelH = 446;
const rowTops = [155, 800, 1447, 2095];
const lineColor = "#262626", gridColor = "#cccccc";

const svg = d3.select("#chart").append("svg")
    .attr("viewBox", `0 0 ${W} ${H}`)
    .attr("preserveAspectRatio", "none");

svg.append("rect").attr("width", W).attr("height", H).attr("fill", "#fff");

rowViolins.forEach((violins, r) => {
    const top = rowTops[r];
    const y = d3.scaleLinear().domain(yLimits[r]).range([top + panelH, top]);

    methods.forEach((method, c) => {
        const left = firstLeft + c * colStep;
        const x = d3.scaleBand().domain(rowGenes[r]).range([left, left + panelW]);
        const hw = x.bandwidth() * 0.4;
        const g = svg.append("g");

        // horizontal grid
        g.selectAll("line.grid").data(rowTicks[r]).join("line")
            .attr("x1", left).attr("x2", left + panelW)
            .attr("y1", d => y(d)).attr("y2", d => y(d))
            .attr("stroke", gridColor).attr("stroke-width", 2.6);

        const panel = violins[c] || [];
        panel.forEach((v, i) => {
            const gene = rowGenes[r][i];
            const cx = x(gene) + x.bandwidth() / 2;
            const [lo, hi, q1, med, q3, prof] = v;

            if (prof.length === 0) {
                // constant values: seaborn draws a flat line
                g.append("line")
                    .attr("x1", cx - hw).attr("x2", cx + hw)
                    .attr("y1", y(med)).attr("y2", y(med))
                    .attr("stroke", lineColor).attr("stroke-width", 5);
                return;
            }

            const area = d3.area()
                .y(d => y(d[0]))
                .x0(d => cx - d[1] * hw)
                .x1(d => cx + d[1] * hw)
                .curve(d3.curveMonotoneY);

            g.append("path")
                .attr("d", area(prof))
                .attr("fill", geneColors[gene])
                .attr("stroke", lineColor)
                .attr("stroke-width", 3.2)
                .attr("stroke-linejoin", "round");

            // whisker / tail
            g.append("line")
                .attr("x1", cx).attr("x2", cx)
                .attr("y1", y(lo)).attr("y2", y(hi))
                .attr("stroke", lineColor).attr("stroke-width", 3.6);

            // inner box
            if (q3 - q1 > 0.001) {
                g.append("line")
                    .attr("x1", cx).attr("x2", cx)
                    .attr("y1", y(q1)).attr("y2", y(q3))
                    .attr("stroke", lineColor).attr("stroke-width", 10.5);
            }

            g.append("circle")
                .attr("cx", cx).attr("cy", y(med)).attr("r", 3.8)
                .attr("fill", "#fff")
                .attr("stroke", lineColor).attr("stroke-width", 0.8);
        });

        // frame
        g.append("rect")
            .attr("x", left).attr("y", top)
            .attr("width", panelW).attr("height", panelH)
            .attr("fill", "none")
            .attr("stroke", gridColor).attr("stroke-width", 4.5);

        // x tick labels (rotated)
        g.selectAll("text.gene").data(rowGenes[r]).join("text")
            .attr("transform", d => `translate(${x(d) + x.bandwidth() / 2},${top + panelH + 26}) rotate(-90)`)
            .attr("text-anchor", "end")
            .attr("dy", "0.35em")
            .style("font-size", "35px")
            .text(d => d);

        // method titles on the first row
        if (r === 0) {
            g.append("text")
                .attr("x", left + panelW / 2)
                .attr("y", top - 17)
                .attr("text-anchor", "middle")
                .style("font-size", "55px")
                .text(method);
        }

        // y axis only on the first column
        if (c === 0) {
            const fmt = r === 3 ? d3.format("d") : d3.format(".1f");
            g.selectAll("text.ytick").data(rowTicks[r]).join("text")
                .attr("x", left - 26)
                .attr("y", d => y(d))
                .attr("dy", "0.35em")
                .attr("text-anchor", "end")
                .style("font-size", "28px")
                .text(d => fmt(d));

            g.append("text")
                .attr("transform", `translate(141,${top + panelH / 2}) rotate(-90)`)
                .attr("text-anchor", "middle")
                .style("font-size", "51px")
                .text(datasets[r]);
        }
    });
});
</script>
</body>
</html>
